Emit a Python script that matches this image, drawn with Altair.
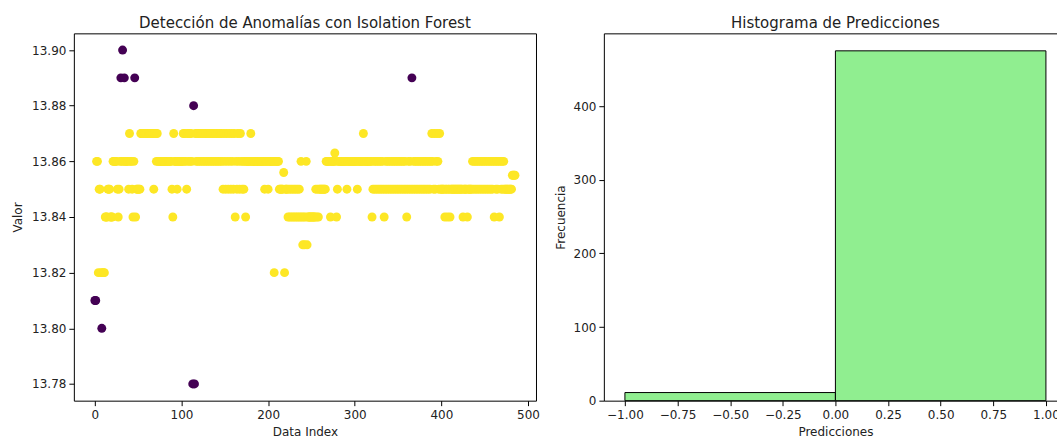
import altair as alt
import pandas as pd

# Serie medida (una lectura por índice)
valores = [
    13.81, 13.81, 13.86, 13.86, 13.82, 13.85, 13.85, 13.82, 13.80, 13.82,
    13.82, 13.82, 13.84, 13.84, 13.84, 13.85, 13.85, 13.85, 13.84, 13.84,
    13.84, 13.86, 13.86, 13.86, 13.86, 13.86, 13.85, 13.84, 13.85, 13.86,
    13.89, 13.86, 13.90, 13.86, 13.89, 13.86, 13.86, 13.86, 13.86, 13.85,
    13.87, 13.86, 13.86, 13.85, 13.84, 13.86, 13.89, 13.84, 13.85, 13.85,
    13.85, 13.85, 13.85, 13.87, 13.87, 13.87, 13.87, 13.87, 13.87, 13.87,
    13.87, 13.87, 13.87, 13.87, 13.87, 13.87, 13.87, 13.87, 13.85, 13.87,
    13.87, 13.86, 13.87, 13.86, 13.86, 13.86, 13.86, 13.86, 13.86, 13.86,
    13.86, 13.86, 13.86, 13.86, 13.86, 13.86, 13.86, 13.86, 13.86, 13.85,
    13.84, 13.87, 13.86, 13.86, 13.86, 13.85, 13.86, 13.86, 13.86, 13.86,
    13.86, 13.86, 13.87, 13.86, 13.87, 13.86, 13.85, 13.87, 13.86, 13.87,
    13.86, 13.87, 13.86, 13.78, 13.88, 13.78, 13.87, 13.86, 13.87, 13.86,
    13.87, 13.86, 13.87, 13.86, 13.87, 13.86, 13.87, 13.86, 13.87, 13.86,
    13.87, 13.86, 13.87, 13.86, 13.87, 13.86, 13.87, 13.86, 13.87, 13.86,
    13.87, 13.86, 13.87, 13.86, 13.87, 13.86, 13.87, 13.86, 13.85, 13.87,
    13.86, 13.85, 13.87, 13.86, 13.85, 13.87, 13.86, 13.85, 13.87, 13.86,
    13.85, 13.87, 13.84, 13.86, 13.85, 13.87, 13.86, 13.85, 13.87, 13.86,
    13.85, 13.86, 13.85, 13.86, 13.84, 13.86, 13.86, 13.86, 13.86, 13.86,
    13.87, 13.86, 13.86, 13.86, 13.86, 13.86, 13.86, 13.86, 13.86, 13.86,
    13.86, 13.86, 13.86, 13.86, 13.86, 13.86, 13.85, 13.86, 13.86, 13.86,
    13.85, 13.86, 13.86, 13.86, 13.86, 13.86, 13.86, 13.82, 13.86, 13.86,
    13.86, 13.86, 13.86, 13.85, 13.85, 13.85, 13.85, 13.85, 13.856, 13.82,
    13.85, 13.85, 13.85, 13.84, 13.85, 13.84, 13.85, 13.84, 13.85, 13.84,
    13.85, 13.84, 13.85, 13.84, 13.85, 13.84, 13.85, 13.84, 13.86, 13.84,
    13.83, 13.84, 13.83, 13.84, 13.86, 13.83, 13.84, 13.84, 13.84, 13.84,
    13.84, 13.84, 13.84, 13.84, 13.84, 13.85, 13.84, 13.85, 13.84, 13.85,
    13.85, 13.85, 13.85, 13.85, 13.85, 13.85, 13.85, 13.86, 13.86, 13.86,
    13.86, 13.86, 13.84, 13.86, 13.86, 13.86, 13.86, 13.863, 13.86, 13.84,
    13.85, 13.86, 13.86, 13.86, 13.86, 13.86, 13.86, 13.86, 13.86, 13.86,
    13.86, 13.85, 13.86, 13.86, 13.86, 13.86, 13.86, 13.86, 13.86, 13.86,
    13.86, 13.86, 13.86, 13.85, 13.86, 13.86, 13.86, 13.86, 13.86, 13.86,
    13.87, 13.86, 13.86, 13.86, 13.86, 13.86, 13.86, 13.86, 13.86, 13.86,
    13.84, 13.85, 13.86, 13.85, 13.86, 13.85, 13.86, 13.85, 13.86, 13.85,
    13.86, 13.85, 13.86, 13.85, 13.84, 13.85, 13.86, 13.85, 13.86, 13.85,
    13.86, 13.85, 13.86, 13.85, 13.86, 13.85, 13.86, 13.85, 13.86, 13.85,
    13.86, 13.85, 13.86, 13.85, 13.86, 13.85, 13.86, 13.85, 13.86, 13.85,
    13.84, 13.85, 13.86, 13.85, 13.86, 13.85, 13.89, 13.85, 13.86, 13.85,
    13.86, 13.85, 13.86, 13.85, 13.86, 13.85, 13.86, 13.85, 13.86, 13.85,
    13.86, 13.85, 13.86, 13.85, 13.86, 13.85, 13.86, 13.85, 13.86, 13.87,
    13.86, 13.85, 13.87, 13.85, 13.86, 13.87, 13.86, 13.85, 13.87, 13.85,
    13.85, 13.85, 13.85, 13.85, 13.84, 13.85, 13.85, 13.84, 13.85, 13.85,
    13.84, 13.85, 13.85, 13.85, 13.85, 13.85, 13.85, 13.85, 13.85, 13.85,
    13.85, 13.85, 13.85, 13.85, 13.85, 13.84, 13.85, 13.85, 13.85, 13.85,
    13.84, 13.85, 13.85, 13.85, 13.85, 13.85, 13.86, 13.85, 13.86, 13.85,
    13.86, 13.85, 13.86, 13.85, 13.86, 13.85, 13.86, 13.85, 13.86, 13.85,
    13.86, 13.85, 13.86, 13.85, 13.86, 13.85, 13.86, 13.85, 13.86, 13.85,
    13.86, 13.84, 13.86, 13.85, 13.86, 13.85, 13.86, 13.84, 13.86, 13.85,
    13.86, 13.85, 13.86, 13.85, 13.85, 13.85, 13.85, 13.85, 13.85, 13.85,
    13.85, 13.85, 13.855, 13.855, 13.855, 13.855,
]

# Índices marcados como anómalos (-1) por el Isolation Forest
indices_anomalos = [0, 1, 8, 30, 32, 34, 46, 113, 114, 115, 366]

anomalos = set(indices_anomalos)
df = pd.DataFrame({
    "idx": list(range(len(valores))),
    "valor": valores,
    "pred": [-1 if i in anomalos else 1 for i in range(len(valores))],
})

FONT = "DejaVu Sans"
TXT = "#222222"

scatter = (
    alt.Chart(df, title=alt.Title("Detección de Anomalías con Isolation Forest"))
    .mark_circle(size=80, opacity=1)
    .encode(
        x=alt.X(
            "idx:Q",
            scale=alt.Scale(domain=[-24.25, 509.25], nice=False, zero=False),
            axis=alt.Axis(title="Data Index", values=[0, 100, 200, 300, 400, 500],
                          labelPadding=4, titlePadding=6),
        ),
        y=alt.Y(
            "valor:Q",
            scale=alt.Scale(domain=[13.774, 13.906], nice=False, zero=False),
            axis=alt.Axis(title="Valor",
                          values=[13.78, 13.80, 13.82, 13.84, 13.86, 13.88, 13.90],
                          format=".2f", titlePadding=7),
        ),
        color=alt.Color("pred:Q",
                        scale=alt.Scale(domain=[-1, 1], range=["#440154", "#fde725"]),
                        legend=None),
        order=alt.Order("idx:Q"),
    )
    .properties(width=463, height=368)
)

# Histograma de las predicciones: dos bins de ancho 1 entre -1 y 1
hist = (
    alt.Chart(df, title=alt.Title("Histograma de Predicciones"))
    .transform_bin(as_=["bin_ini", "bin_fin"], field="pred",
                   bin=alt.Bin(extent=[-1, 1], step=1))
    .transform_aggregate(frecuencia="count()", groupby=["bin_ini", "bin_fin"])
    .mark_rect(color="#90ee90", stroke="#000000", strokeWidth=1)
    .encode(
        x=alt.X(
            "bin_ini:Q",
            scale=alt.Scale(domain=[-1.1, 1.1], nice=False, zero=False),
            axis=alt.Axis(title="Predicciones",
                          values=[-1, -0.75, -0.5, -0.25, 0, 0.25, 0.5, 0.75, 1],
                          format=".2f", labelPadding=4, titlePadding=6),
        ),
        x2="bin_fin:Q",
        y=alt.Y(
            "frecuencia:Q",
            scale=alt.Scale(domain=[0, 498.75], nice=False),
            axis=alt.Axis(title="Frecuencia", values=[0, 100, 200, 300, 400],
                          titlePadding=6),
        ),
        y2=alt.datum(0),
    )
    .properties(width=464, height=368)
)

# The right panel runs past the page edge; a negative right padding trims it.
chart = (
    alt.hconcat(scatter, hist, spacing=68, bounds="flush")
    .properties(padding={"left": 11, "top": 15, "right": -11, "bottom": 0})
    .configure_view(stroke="#000000", strokeWidth=1)
    .configure_axis(
        domain=False, grid=False, tickColor="#000000", tickSize=5, tickWidth=1,
        labelFont=FONT, labelFontSize=12, labelColor=TXT, labelPadding=3,
        labelFlush=False,
        titleFont=FONT, titleFontSize=12, titleFontWeight="normal", titleColor=TXT,
    )
    .configure_title(font=FONT, fontSize=15, fontWeight="normal", color=TXT,
                     anchor="middle", offset=2)
)

chart.save("out.html", embed_options={"renderer": "svg", "actions": False})
